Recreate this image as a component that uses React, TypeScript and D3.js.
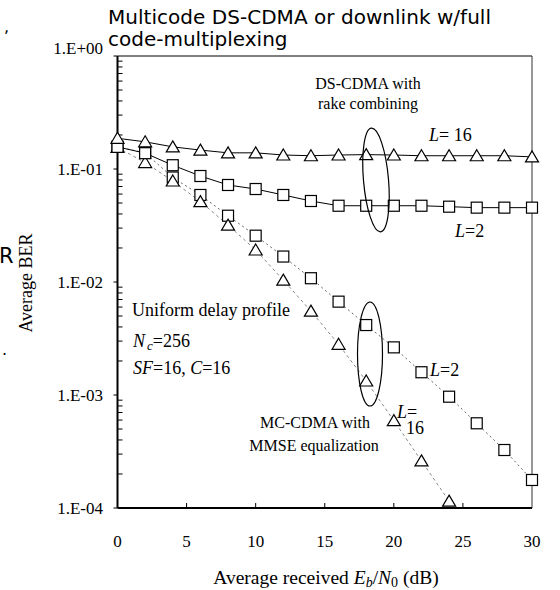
import React from 'react';
import * as d3 from 'd3';

// Eb/N0 (dB) sample points
const snr = [0, 2, 4, 6, 8, 10, 12, 14, 16, 18, 20, 22, 24, 26, 28, 30];
const snrMc16 = [0, 2, 4, 6, 8, 10, 12, 14, 16, 18, 20, 22, 24];

// DS-CDMA with rake combining
const dsL16 = [0.187, 0.174, 0.157, 0.147, 0.139, 0.139, 0.133, 0.131, 0.133, 0.134, 0.133, 0.131, 0.131, 0.131, 0.131, 0.128];
const dsL2 = [0.157, 0.138, 0.108, 0.0867, 0.0722, 0.0665, 0.0589, 0.0521, 0.0473, 0.0473, 0.0473, 0.0473, 0.0464, 0.0455, 0.0455, 0.0455];

// MC-CDMA with MMSE equalization
const mcL2 = [0.157, 0.139, 0.0841, 0.0589, 0.0386, 0.0257, 0.0168, 0.0108, 0.0067, 0.00416, 0.00264, 0.00159, 0.000966, 0.000562, 0.000326, 0.000177];
const mcL16 = [0.155, 0.114, 0.0783, 0.0514, 0.0319, 0.0192, 0.0104, 0.00553, 0.00281, 0.00133, 0.000593, 0.000261, 0.000115];

const xTicks = [0, 5, 10, 15, 20, 25, 30];
const yTicks = [1e-4, 1e-3, 1e-2, 1e-1, 1];
const yTickLabels = ['1.E-04', '1.E-03', '1.E-02', '1.E-01', '1.E+00'];

const W = 560;
const H = 590;
const serif = '"Liberation Serif", "Times New Roman", serif';
const sans = '"DejaVu Sans", Verdana, sans-serif';

const App = () => {
    const x = d3.scaleLinear().domain([0, 30]).range([117.5, 532]);
    const y = d3.scaleLog().domain([1e-4, 1]).range([508, 56]);
    const [x0, x1] = x.range();
    const [y0, y1] = y.range();

    const line = d3.line<[number, number]>()
        .x(d => x(d[0]))
        .y(d => y(d[1]));
    const pts = (xs: number[], ys: number[]) => xs.map((v, i) => [v, ys[i]] as [number, number]);

    // minor ticks on the log axis
    const minor: number[] = [];
    for (let e = -4; e < 0; e++) {
        for (let m = 2; m <= 9; m++) minor.push(m * Math.pow(10, e));
    }

    const tri = (cx: number, cy: number, k: string) => (
        <path key={k} d={`M${cx},${cy - 6}L${cx + 6.5},${cy + 5}L${cx - 6.5},${cy + 5}Z`}
            fill="white" stroke="black" strokeWidth={1.2} />
    );
    const sq = (cx: number, cy: number, k: string) => (
        <rect key={k} x={cx - 5.5} y={cy - 5.5} width={11} height={11}
            fill="white" stroke="black" strokeWidth={1.2} />
    );

    return (
        <svg width={W} height={H} style={{ position: 'absolute', left: 0, top: 0, background: 'white' }}>
            {/* stray fragments at the left edge */}
            <text x={4} y={32} fontFamily={sans} fontSize={16}>,</text>
            <text x={-1} y={263} fontFamily={sans} fontSize={21}>R</text>
            <text x={2} y={355} fontFamily={sans} fontSize={16}>.</text>

            {/* title */}
            <text x={108} y={24} fontFamily={sans} fontSize={20} textLength={383} lengthAdjust="spacing">Multicode DS-CDMA or downlink w/full</text>
            <text x={108} y={46} fontFamily={sans} fontSize={20}>code-multiplexing</text>

            {/* frame */}
            <line x1={x0} x2={x1} y1={y1} y2={y1} stroke="black" strokeWidth={1} />
            <line x1={x1} x2={x1} y1={y1} y2={y0} stroke="#333" strokeWidth={1} />
            <line x1={x0} x2={x0} y1={y1} y2={y0} stroke="black" strokeWidth={2} />
            <line x1={x0} x2={x1} y1={y0} y2={y0} stroke="black" strokeWidth={2} />

            {/* y ticks */}
            {minor.map((v, i) => (
                <line key={'m' + i} x1={x0} x2={x0 + 5} y1={y(v)} y2={y(v)} stroke="black" strokeWidth={1} />
            ))}
            {yTicks.map((v, i) => (
                <g key={'y' + i}>
                    <line x1={x0 - 4} x2={x0} y1={y(v)} y2={y(v)} stroke="black" strokeWidth={1} />
                    <text x={103} y={y(v) + 5.5 - (i === yTicks.length - 1 ? 8 : 0)} textAnchor="end"
                        fontFamily={serif} fontSize={17}>{yTickLabels[i]}</text>
                </g>
            ))}

            {/* x ticks */}
            {xTicks.map((v, i) => (
                <g key={'x' + i}>
                    {i > 0 && i < xTicks.length - 1 &&
                        <line x1={x(v)} x2={x(v)} y1={y0} y2={y0 - 5} stroke="black" strokeWidth={1} />}
                    <text x={x(v)} y={547} textAnchor="middle" fontFamily={serif} fontSize={17}>{v}</text>
                </g>
            ))}

            {/* axis titles */}
            <text transform="translate(32,283) rotate(-90)" textAnchor="middle" fontFamily={serif} fontSize={18}>Average BER</text>
            <text x={326} y={584} textAnchor="middle" fontFamily={serif} fontSize={19.5}>
                Average received <tspan fontStyle="italic">E</tspan>
                <tspan fontStyle="italic" fontSize={14} dy={3}>b</tspan>
                <tspan dy={-3}>/</tspan><tspan fontStyle="italic">N</tspan>
                <tspan fontSize={14} dy={3}>0</tspan>
                <tspan dy={-3}> (dB)</tspan>
            </text>

            {/* series lines */}
            <path d={line(pts(snr, mcL2)) || ''} fill="none" stroke="#666" strokeWidth={1} strokeDasharray="2,3" />
            <path d={line(pts(snrMc16, mcL16)) || ''} fill="none" stroke="#888" strokeWidth={1} strokeDasharray="3,3" />
            <path d={line(pts(snr, dsL2)) || ''} fill="none" stroke="black" strokeWidth={1} />
            <path d={line(pts(snr, dsL16)) || ''} fill="none" stroke="black" strokeWidth={1} />

            {/* markers */}
            {snr.map((v, i) => sq(x(v), y(mcL2[i]), 'a' + i))}
            {snrMc16.map((v, i) => tri(x(v), y(mcL16[i]), 'b' + i))}
            {snr.map((v, i) => sq(x(v), y(dsL2[i]), 'c' + i))}
            {snr.map((v, i) => tri(x(v), y(dsL16[i]), 'd' + i))}

            {/* grouping ellipses */}
            <ellipse cx={376} cy={180} rx={12.5} ry={52} fill="none" stroke="black" strokeWidth={1.2} transform="rotate(-5,376,180)" />
            <ellipse cx={370} cy={354} rx={12.5} ry={52} fill="none" stroke="black" strokeWidth={1.2} />

            {/* annotations */}
            <g fontFamily={serif} fontSize={16}>
                <text x={368} y={89} textAnchor="middle">DS-CDMA with</text>
                <text x={368} y={109} textAnchor="middle">rake combining</text>
                <text x={429} y={141} fontSize={18}><tspan fontStyle="italic">L</tspan>= 16</text>
                <text x={455} y={237} fontSize={18}><tspan fontStyle="italic">L</tspan>=2</text>
                <text x={132} y={316} fontSize={18}>Uniform delay profile</text>
                <text x={133} y={347} fontSize={18}><tspan fontStyle="italic">N</tspan><tspan fontStyle="italic" fontSize={13} dx={2} dy={3}>c</tspan><tspan dy={-3}>=256</tspan></text>
                <text x={133} y={374} fontSize={18}><tspan fontStyle="italic">SF</tspan>=16, <tspan fontStyle="italic">C</tspan>=16</text>
                <text x={430} y={376} fontSize={18}><tspan fontStyle="italic">L</tspan>=2</text>
                <text x={397} y={418} fontSize={18}><tspan fontStyle="italic">L</tspan>=</text>
                <text x={406} y={434} fontSize={18}>16</text>
                <text x={315} y={428} textAnchor="middle">MC-CDMA with</text>
                <text x={314} y={451} textAnchor="middle">MMSE equalization</text>
            </g>
        </svg>
    );
};

export default App;
